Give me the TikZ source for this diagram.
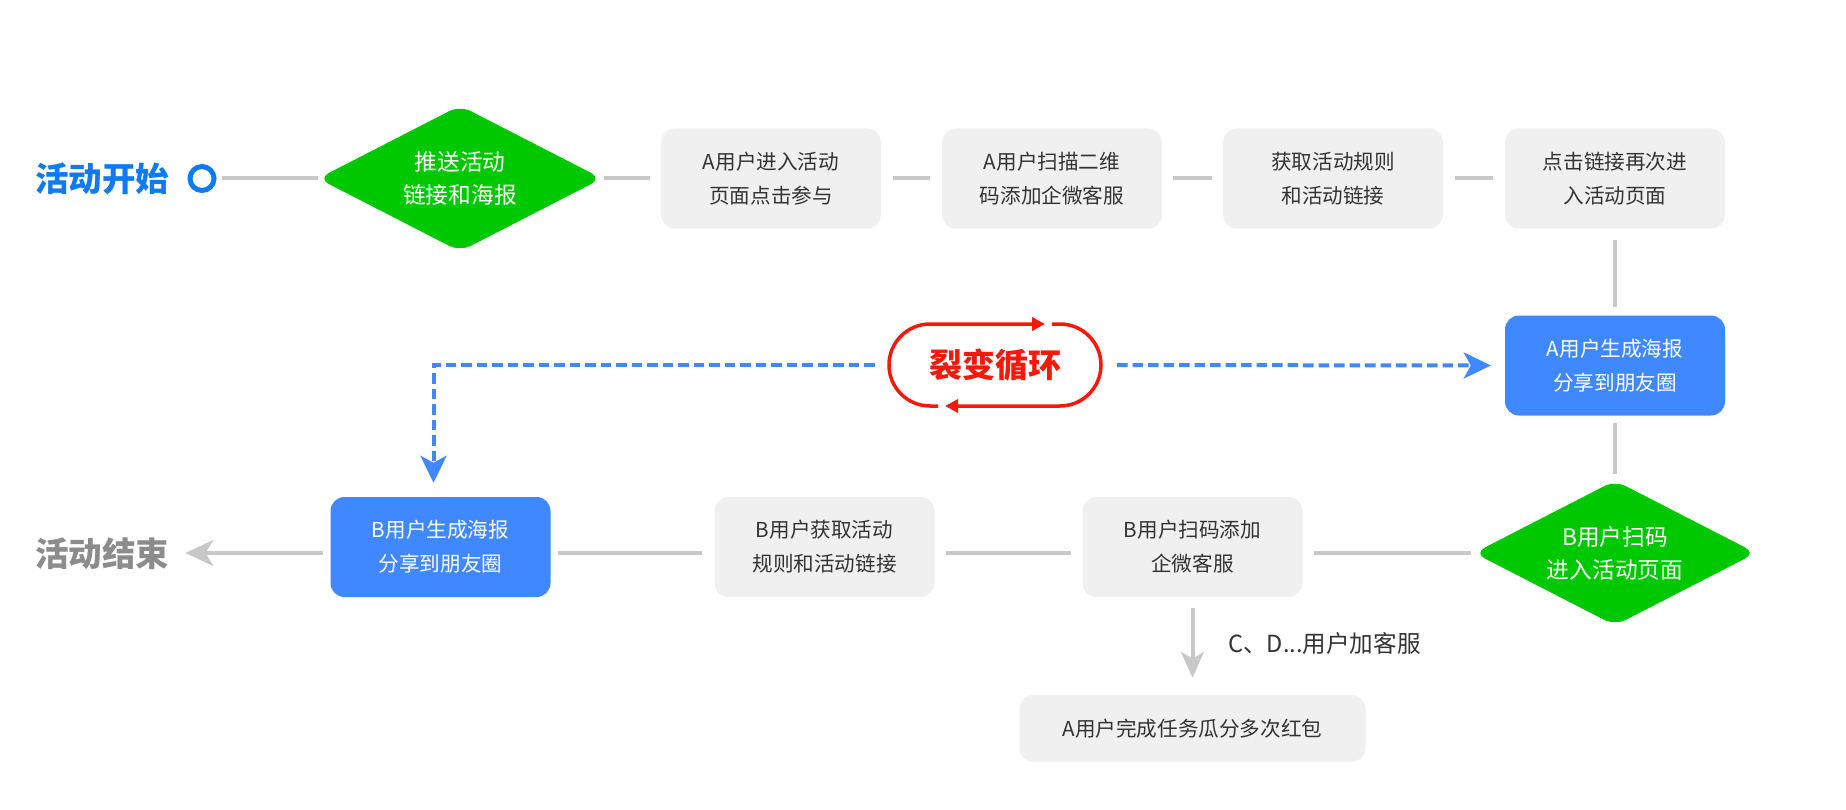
\documentclass[tikz,border=0pt]{standalone}
\usepackage{fontspec}
\setmainfont{Noto Sans CJK SC}
\usetikzlibrary{arrows.meta,shapes.geometric,calc}
\definecolor{startblue}{RGB}{16,122,245}
\definecolor{endgrey}{RGB}{140,140,140}
\definecolor{connc}{RGB}{200,200,200}
\definecolor{boxgrey}{RGB}{240,240,240}
\definecolor{txt}{RGB}{51,51,51}
\definecolor{boxblue}{RGB}{64,136,255}
\definecolor{greend}{RGB}{0,200,0}
\definecolor{loopred}{RGB}{245,25,10}
\tikzset{
  greybox/.style={rectangle, rounded corners=14pt, fill=boxgrey, minimum width=220pt, minimum height=100pt, inner sep=0pt, align=center, text=txt, font=\fontsize{20.6pt}{34pt}\selectfont},
  bluebox/.style={greybox, fill=boxblue, text=white},
  gdiam/.style={diamond, aspect=1.94, fill=greend, rounded corners=12pt, minimum width=284pt, minimum height=146pt, inner sep=0pt, align=center, text=white, font=\fontsize{22.7pt}{33pt}\selectfont},
  connline/.style={draw=connc, line width=4pt},
  dashb/.style={draw=boxblue, line width=4pt, dash pattern=on 10.5pt off 5pt},
  bigtitle/.style={anchor=west, inner sep=0pt, font=\bfseries\fontsize{33.5pt}{40pt}\selectfont},
}
\begin{document}
\begin{tikzpicture}[x=1pt,y=-1pt]
\fill[white] (0,0) rectangle (1846,810);
\useasboundingbox (0,0) rectangle (1846,810);
% row 1
\node[bigtitle, text=startblue] (start) at (35,178.5) {活动开始};
\node[circle, draw=startblue, line width=5pt, minimum size=24pt, inner sep=0pt] (c0) at (202,178.5) {};
\node[gdiam] (D1) at (460,178.5) {推送活动\\链接和海报};
\node[greybox] (A1) at (771,178.5) {A用户进入活动\\页面点击参与};
\node[greybox] (A2) at (1052,178.5) {A用户扫描二维\\码添加企微客服};
\node[greybox] (A3) at (1333,178.5) {获取活动规则\\和活动链接};
\node[greybox] (A4) at (1615,178.5) {点击链接再次进\\入活动页面};
% middle
\node[bluebox] (A5) at (1615,365.5) {A用户生成海报\\分享到朋友圈};
\node[text=loopred, inner sep=0pt, minimum width=212pt, minimum height=82pt, font=\bfseries\fontsize{33pt}{40pt}\selectfont] (loop) at (995,365) {裂变循环};
% row 2
\node[gdiam, minimum width=282pt, minimum height=145pt] (B1) at (1615,553) {B用户扫码\\进入活动页面};
\node[greybox] (B2) at (1192.5,547) {B用户扫码添加\\企微客服};
\node[greybox] (B3) at (824.5,547) {B用户获取活动\\规则和活动链接};
\node[bluebox] (B4) at (440.5,547) {B用户生成海报\\分享到朋友圈};
\node[bigtitle, text=endgrey] (end) at (35,554) {活动结束};
% bottom
\node[greybox, minimum width=346pt, minimum height=67pt] (A6) at (1192.5,728.5) {A用户完成任务瓜分多次红包};
\node[anchor=west, inner sep=0pt, text=txt, font=\fontsize{23.6pt}{28pt}\selectfont] (lab) at (1228,643) {C、D...用户加客服};
% connectors row 1
\draw[connline, shorten <=5.5pt, shorten >=0pt] (c0) -- (D1);
\draw[connline, shorten <=2pt, shorten >=11pt] (D1) -- (A1);
\draw[connline, shorten <=12pt, shorten >=12pt] (A1) -- (A2);
\draw[connline, shorten <=11pt, shorten >=11pt] (A2) -- (A3);
\draw[connline, shorten <=12pt, shorten >=12pt] (A3) -- (A4);
\draw[connline, shorten <=11pt, shorten >=8pt] (A4) -- (A5);
\draw[connline, shorten <=7pt, shorten >=6pt] (A5) -- (B1);
% connectors row 2
\draw[connline, shorten <=3pt, shorten >=11pt] (B1.west) -- (B1.west -| B2.east);
\draw[connline, shorten <=11pt, shorten >=11pt] (B2.west |- B1.west) -- (B3.east |- B1.west);
\draw[connline, shorten <=12pt, shorten >=7pt] (B3.west |- B1.west) -- (B4.east |- B1.west);
\draw[connline, -{Stealth[length=28pt,width=26pt,inset=8pt]}, shorten <=7pt, shorten >=16pt] (B4.west |- B1.west) -- (end.east |- B1.west);
\draw[connline, -{Stealth[length=26pt,width=23pt,inset=7pt]}, shorten <=11pt, shorten >=17pt] (B2) -- (A6);
% dashed
\draw[dashb, -{Stealth[length=27pt,width=26pt,inset=7pt]}] ([xshift=-14pt]loop.west) -| ([xshift=-7pt,yshift=14pt]B4.north);
\draw[dashb, -{Stealth[length=27pt,width=26pt,inset=7pt]}] ([xshift=16pt]loop.east) -- ([xshift=-14pt]A5.west);
% loop pill
\draw[loopred, line width=3.5pt, -{Triangle[length=13pt,width=13pt]}] (1052,324) -- (1060,324) arc(90:-90:41pt) -- (945,406);
\draw[loopred, line width=3.5pt, -{Triangle[length=13pt,width=13pt]}] (938,406) -- (930,406) arc(270:90:41pt) -- (1045,324);
\end{tikzpicture}
\end{document}
